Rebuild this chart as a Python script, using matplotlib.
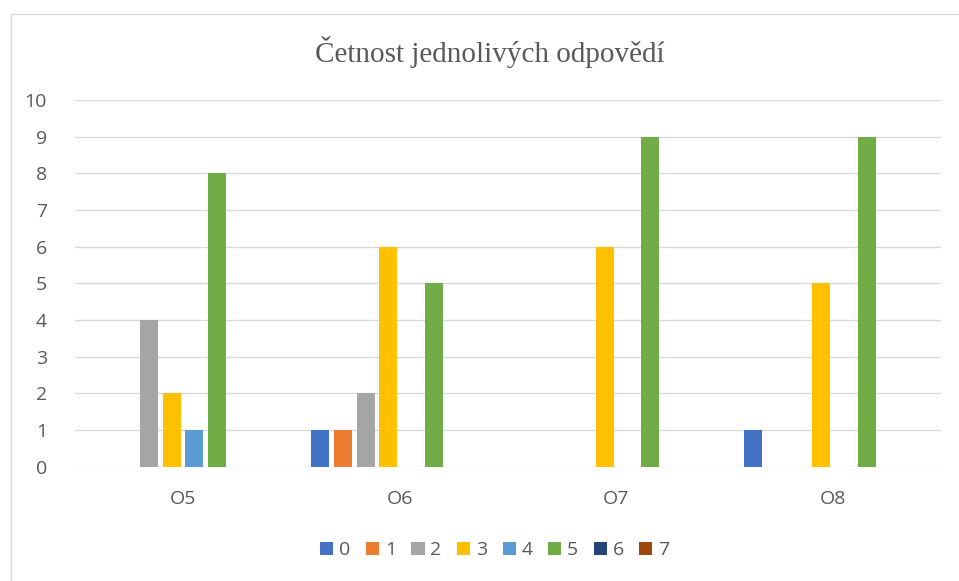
import matplotlib.pyplot as plt
from matplotlib.patches import Patch
from matplotlib.lines import Line2D
import numpy as np

categories = ['O5', 'O6', 'O7', 'O8']
series = ['0', '1', '2', '3', '4', '5', '6', '7']
values = {
    '0': [0, 1, 0, 1],
    '1': [0, 1, 0, 0],
    '2': [4, 2, 0, 0],
    '3': [2, 6, 6, 5],
    '4': [1, 0, 0, 0],
    '5': [8, 5, 9, 9],
    '6': [0, 0, 0, 0],
    '7': [0, 0, 0, 0],
}
colors = ['#4472C4', '#ED7D31', '#A5A5A5', '#FFC000', '#5B9BD5', '#70AD47', '#264478', '#9E480E']
title = 'Četnost jednolivých odpovědí'

txt = '#595959'
sans = ['Open Sans', 'DejaVu Sans']
plt.rcParams['font.family'] = sans

fig = plt.figure(figsize=(9.59, 5.81), dpi=100)
ax = fig.add_axes([0.0779, 0.1967, 0.9812 - 0.0779, 0.8279 - 0.1967])

x = np.arange(len(categories))
step = 0.1048
width = 0.0831
for i, s in enumerate(series):
    ax.bar(x + (i - 3.5) * step, values[s], width=width, color=colors[i], zorder=3)

ax.set_xlim(-0.5, len(categories) - 0.5)
ax.set_ylim(0, 10)
ax.set_yticks(range(0, 11))
ax.set_xticks(x)
ax.set_xticklabels(categories)
ax.grid(axis='y', color='#D9D9D9', linewidth=1.0, zorder=0)
for sp in ax.spines.values():
    sp.set_visible(False)
ax.tick_params(length=0, labelsize=14, labelcolor=txt)
ax.tick_params(axis='y', pad=20)
ax.tick_params(axis='x', pad=17)

fig.text(0.511, 0.91, title, ha='center', va='center', fontsize=21,
         family=['Liberation Serif', 'DejaVu Serif'], color=txt)

handles = [Patch(facecolor=c) for c in colors]
fig.legend(handles, series, loc='center', bbox_to_anchor=(0.516, 0.053), ncol=8,
           frameon=False, fontsize=14, labelcolor=txt, handlelength=0.67,
           handleheight=0.67, handletextpad=0.3, columnspacing=0.8)

# chart border (Excel frame)
fig.add_artist(Line2D([11 / 959, 11 / 959], [0, 1 - 14 / 581], color='#D9D9D9', lw=1.0))
fig.add_artist(Line2D([11 / 959, 1], [1 - 14 / 581, 1 - 14 / 581], color='#D9D9D9', lw=1.0))

fig.savefig('out.png', dpi=100)
